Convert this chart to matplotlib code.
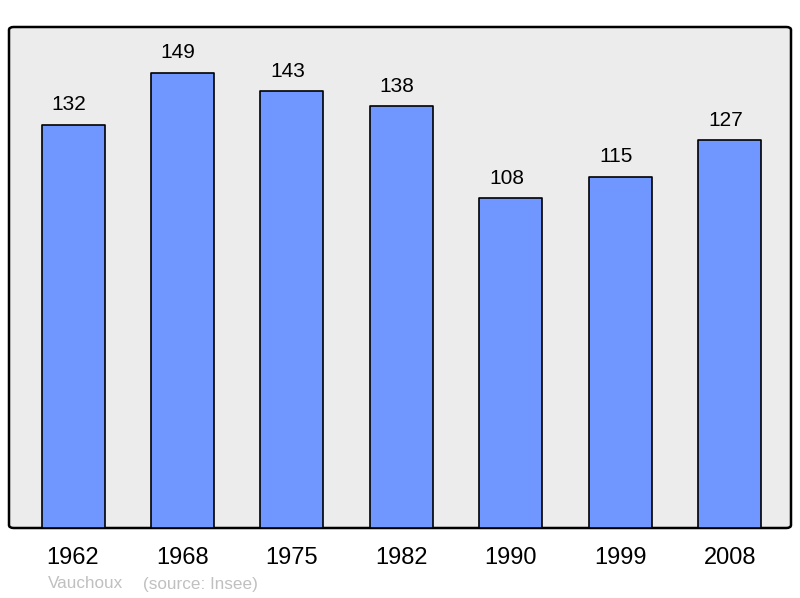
import matplotlib
matplotlib.use("Agg")
import matplotlib.pyplot as plt
from matplotlib.patches import FancyBboxPatch

plt.rcParams['font.family'] = ['Liberation Sans', 'DejaVu Sans']

years = ['1962', '1968', '1975', '1982', '1990', '1999', '2008']
population = [132, 149, 143, 138, 108, 115, 127]
commune = 'Vauchoux'
source = '(source: Insee)'

fig = plt.figure(figsize=(8, 5.98), dpi=100)
ax = fig.add_axes([9 / 800, 70 / 598, 782 / 800, 501 / 598])
ax.set_facecolor('none')

# rounded frame drawn behind everything
frame = FancyBboxPatch((0, 0), 1, 1, boxstyle='round,pad=0,rounding_size=0.006',
                       transform=ax.transAxes, facecolor='#ececec',
                       edgecolor='black', linewidth=1.8, zorder=0, clip_on=False)
ax.add_patch(frame)

x = range(len(years))
bars = ax.bar(x, population, width=0.576, color='#7097ff', edgecolor='black',
              linewidth=1.2, zorder=2)
for b in bars:
    b.set_joinstyle('round')

for xi, v in zip(x, population):
    ax.annotate(str(v), (xi, v), xytext=(-3, 7.5), textcoords='offset points',
                ha='center', va='bottom', fontsize=15)

ax.set_xlim(-0.585, 6.56)
ax.set_ylim(0, 164)
for s in ax.spines.values():
    s.set_visible(False)
ax.set_yticks([])
ax.set_xticks(list(x))
ax.set_xticklabels(years, fontsize=17)
ax.tick_params(axis='x', length=0, pad=13.5)

fig.text(48 / 800, 1 - 584 / 598, commune, color='#c0c0c0', fontsize=12.3, va='center')
fig.text(143 / 800, 1 - 584 / 598, source, color='#c0c0c0', fontsize=12.3, va='center')

fig.savefig('out.png', dpi=100)
